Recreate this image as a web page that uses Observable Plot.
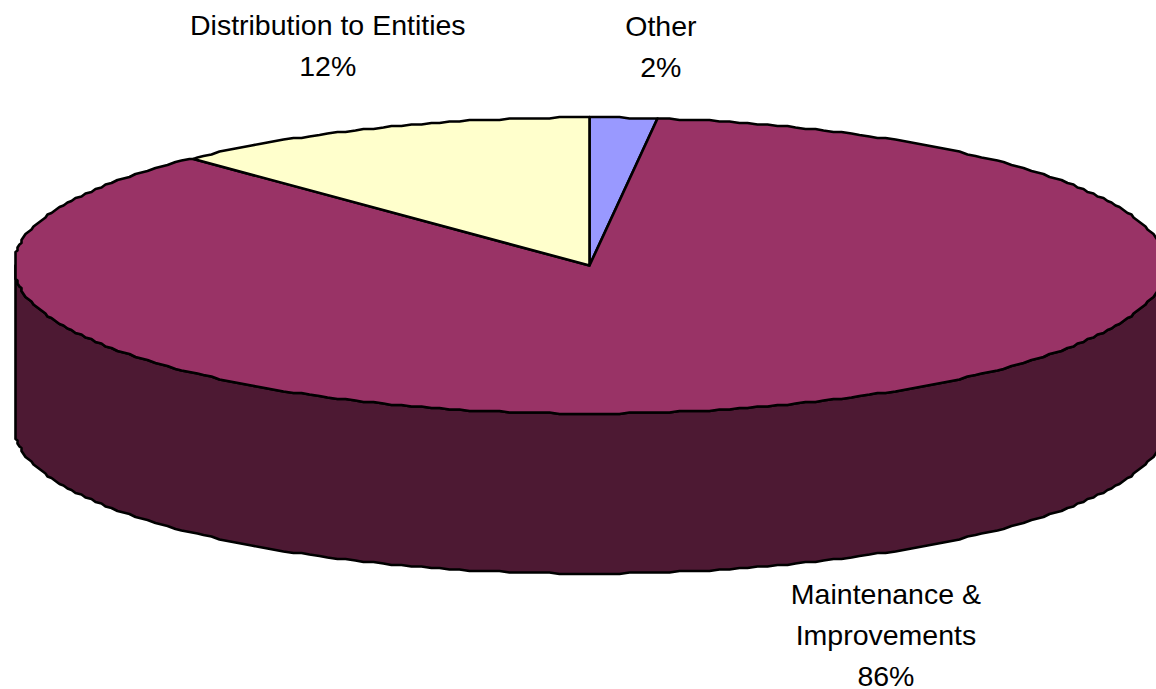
<!DOCTYPE html>
<html>
<head>
<meta charset="utf-8">
<style>
html,body{margin:0;padding:0;background:#fff;overflow:hidden}
svg{display:block}
</style>
<script src="https://cdn.jsdelivr.net/npm/d3@7"></script>
<script src="https://cdn.jsdelivr.net/npm/@observablehq/plot@0.6"></script>
</head>
<body>
<div id="chart"></div>
<script>
// Data, in the order the slices run clockwise from twelve o'clock
const categories = ["Other", "Maintenance &\nImprovements", "Distribution to Entities"];
const shares = [1.9, 86, 12.1];
const topColors = ["#9999FF", "#993366", "#FFFFCC"];
const sideColors = ["#4D4D80", "#4D1933", "#808066"];

// Layout of the tilted pie in pixels
const W = 1156, H = 689, cx = 589, cy = 265, rx = 576, ry = 148, depth = 160 / ry;
const leftEdge = -574 / rx, rightEdge = 1.02;
const gridX = 2 / rx, gridY = 1.5 / ry, stepDeg = 1;
const labelNudge = [
  {dx: 37, dy: -74},
  {dx: 115, dy: 226},
  {dx: -48, dy: -86}
];

const snap = (v, g) => Math.round(v / g) * g;
const rad = d => d * Math.PI / 180;
const rim = deg => ({
  x: Math.min(rightEdge, Math.max(leftEdge, snap(Math.sin(rad(deg)), gridX))),
  y: snap(Math.cos(rad(deg)), gridY)
});
function arcDegrees(a, b) {
  const out = [a];
  for (let d = Math.ceil(a / stepDeg + 1e-6) * stepDeg; d < b; d += stepDeg) out.push(d);
  out.push(b);
  return out;
}

const total = d3.sum(shares);
let run = 0;
const slices = categories.map((name, i) => {
  const a = run / total * 360;
  run += shares[i];
  return {i, name, share: shares[i], a, b: run / total * 360};
});

const topRings = slices.map(s => [{x: 0, y: 0}, ...arcDegrees(s.a, s.b).map(rim), {x: 0, y: 0}]);

const walls = slices.flatMap(s => {
  const a = Math.max(s.a, 90), b = Math.min(s.b, 270);
  if (a >= b) return [];
  const up = arcDegrees(a, b).map(rim);
  const down = [...up].reverse().map(p => ({x: p.x, y: p.y - depth}));
  return [{s, pts: [...up, ...down, up[0]]}];
});

const marks = [
  ...walls.map(w => Plot.line(w.pts, {
    x: "x", y: "y", fill: sideColors[w.s.i], stroke: "#000", strokeWidth: 2.6, strokeLinejoin: "round"
  })),
  ...topRings.map((pts, i) => Plot.line(pts, {
    x: "x", y: "y", fill: topColors[i], stroke: "#000", strokeWidth: 2.6, strokeLinejoin: "round"
  })),
  ...slices.map((s, i) => {
    const mid = (s.a + s.b) / 2;
    return Plot.text([s], {
      x: () => Math.sin(rad(mid)),
      y: () => Math.cos(rad(mid)),
      text: d => `${d.name}\n${Math.round(d.share)}%`,
      dx: labelNudge[i].dx,
      dy: labelNudge[i].dy,
      fill: "#000",
      fontFamily: "Liberation Sans, Arial, sans-serif",
      fontSize: 28.5,
      lineHeight: 1.44,
      lineAnchor: "middle",
      textAnchor: "middle"
    });
  })
];

const chart = Plot.plot({
  width: W, height: H,
  margin: 0,
  x: {domain: [-cx / rx, (W - cx) / rx], range: [0, W], axis: null},
  y: {domain: [(cy - H) / ry, cy / ry], range: [H, 0], axis: null},
  style: {background: "#fff"},
  marks
});
document.getElementById("chart").append(chart);
</script>
</body>
</html>
